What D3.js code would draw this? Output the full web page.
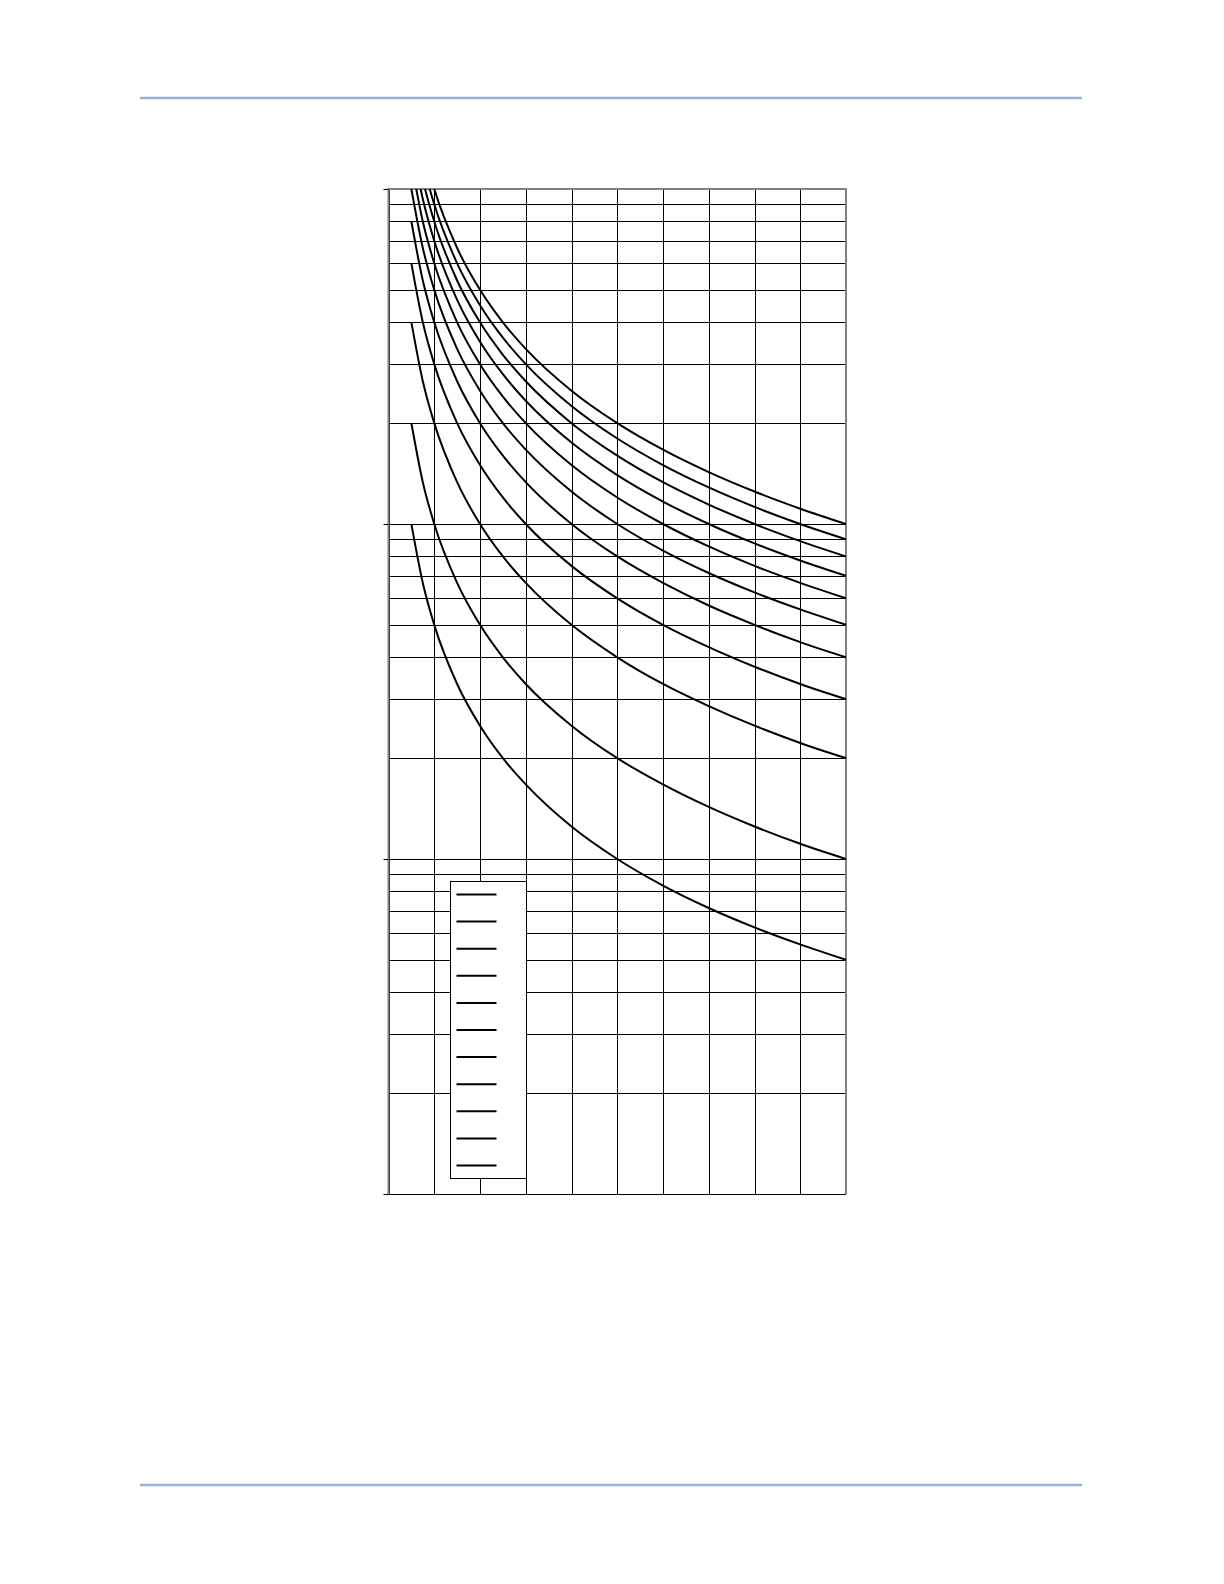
<!DOCTYPE html>
<html>
<head>
<meta charset="utf-8">
<script src="https://cdn.jsdelivr.net/npm/d3@7"></script>
<style>
body{margin:0;background:#fff;}
svg{display:block;font-family:"Liberation Sans",Arial,sans-serif;}
</style>
</head>
<body>
<div id="chart"></div>
<script>
/* Inverse-time curves: log time vs multiple, one curve per dial setting,
   with a legend box holding line samples only. */
var timeDials=[0.5,1,2,3,4,5,6,7,8,9,10];
var multiples=[0.5,0.75,1,1.5,2,2.5,3,4,5,6,7,8,9,10];
var td05=[1,0.667,0.5,0.333,0.25,0.2,0.167,0.125,0.1,0.0833,0.0714,0.0625,0.0556,0.05];
var td1=[2,1.333,1,0.667,0.5,0.4,0.333,0.25,0.2,0.167,0.143,0.125,0.111,0.1];
var td2=[4,2.667,2,1.333,1,0.8,0.667,0.5,0.4,0.333,0.286,0.25,0.222,0.2];
var td3=[6,4,3,2,1.5,1.2,1,0.75,0.6,0.5,0.429,0.375,0.333,0.3];
var td4=[8,5.333,4,2.667,2,1.6,1.333,1,0.8,0.667,0.571,0.5,0.444,0.4];
var td5=[10,6.667,5,3.333,2.5,2,1.667,1.25,1,0.833,0.714,0.625,0.556,0.5];
var td6=[12,8,6,4,3,2.4,2,1.5,1.2,1,0.857,0.75,0.667,0.6];
var td7=[14,9.333,7,4.667,3.5,2.8,2.333,1.75,1.4,1.167,1,0.875,0.778,0.7];
var td8=[16,10.667,8,5.333,4,3.2,2.667,2,1.6,1.333,1.143,1,0.889,0.8];
var td9=[18,12,9,6,4.5,3.6,3,2.25,1.8,1.5,1.286,1.125,1,0.9];
var td10=[20,13.333,10,6.667,5,4,3.333,2.5,2,1.667,1.429,1.25,1.111,1];
var curves=[td05,td1,td2,td3,td4,td5,td6,td7,td8,td9,td10];
var xTicks=[0,1,2,3,4,5,6,7,8,9,10];
var yDecades=[0.01,0.1,1,10];

var W=1224,H=1584;
var m={left:388.5,right:846,top:189,bottom:1194};
var svg=d3.select("#chart").append("svg").attr("width",W).attr("height",H);
svg.append("rect").attr("width",W).attr("height",H).attr("fill","#fff");

// page rules
[98,1485].forEach(function(yy){
    svg.append("line").attr("x1",140).attr("x2",1082).attr("y1",yy).attr("y2",yy)
        .attr("stroke","#95b3d7").attr("stroke-width",2.5);
});

var x=d3.scaleLinear().domain([0,10]).range([m.left,m.right]);
var y=d3.scaleLog().domain([0.01,10]).range([m.bottom,m.top]);
var px=function(v){return Math.round(v)+0.5;};

var g=svg.append("g");
svg.append("clipPath").attr("id","plotclip").append("rect")
    .attr("x",m.left).attr("y",m.top).attr("width",m.right-m.left).attr("height",m.bottom-m.top);

// grid
var yGrid=y.ticks();
g.selectAll("line.hg").data(yGrid).enter().append("line").attr("class","hg")
    .attr("x1",m.left).attr("x2",m.right).attr("y1",function(d){return px(y(d));}).attr("y2",function(d){return px(y(d));})
    .attr("stroke","#000").attr("stroke-width",1);
g.selectAll("line.vg").data(xTicks).enter().append("line").attr("class","vg")
    .attr("x1",function(d){return px(x(d));}).attr("x2",function(d){return px(x(d));}).attr("y1",m.top).attr("y2",m.bottom)
    .attr("stroke","#000").attr("stroke-width",1);

// frame
g.append("path").attr("d","M"+m.left+","+m.bottom+"V"+m.top+"H"+m.right+"V"+m.bottom)
    .attr("fill","none").attr("stroke","#808080").attr("stroke-width",2);
g.selectAll("line.tk").data(yDecades).enter().append("line").attr("class","tk")
    .attr("x1",m.left-5).attr("x2",m.left).attr("y1",function(d){return px(y(d));}).attr("y2",function(d){return px(y(d));})
    .attr("stroke","#000").attr("stroke-width",1);

// curves
var line=d3.line().x(function(d){return x(d[0]);}).y(function(d){return y(d[1]);}).curve(d3.curveMonotoneX);
g.append("g").attr("clip-path","url(#plotclip)").selectAll("path.curve").data(curves).enter().append("path")
    .attr("class","curve")
    .attr("d",function(vals){return line(vals.map(function(v,i){return [multiples[i],v];}));})
    .attr("fill","none").attr("stroke","#000").attr("stroke-width",2).attr("stroke-linejoin","round");

// legend (line samples only)
var lg=svg.append("g").attr("transform","translate(450.5,881.5)");
lg.append("rect").attr("width",76).attr("height",297).attr("fill","#fff").attr("stroke","#000").attr("stroke-width",1);
lg.selectAll("line").data(timeDials).enter().append("line")
    .attr("x1",6).attr("x2",46).attr("y1",function(d,i){return 13+i*27.1;}).attr("y2",function(d,i){return 13+i*27.1;})
    .attr("stroke","#000").attr("stroke-width",2);
</script>
</body>
</html>
